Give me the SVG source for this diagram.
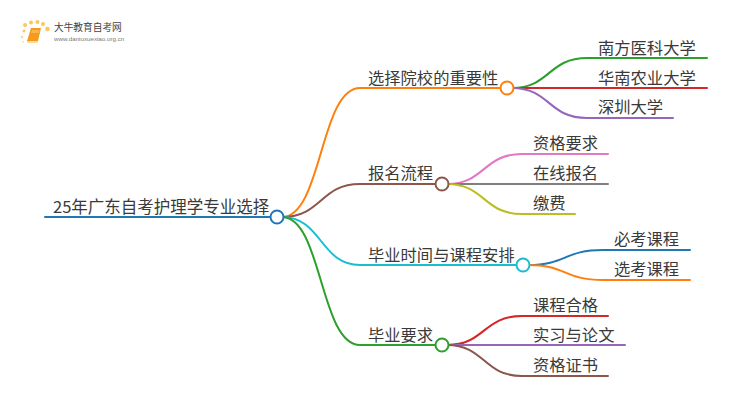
<svg xmlns="http://www.w3.org/2000/svg" width="750" height="410" viewBox="0 0 750 410">
<style>
text{font-family:"Noto Sans CJK SC","Liberation Sans",sans-serif;font-size:16.300px;fill:#3a3a3a}
.c{fill:none;stroke-width:2;stroke-linecap:round}
.n{fill:#fff;stroke-width:2}
</style>
<rect width="750" height="410" fill="#fff"/>
<g id="logo">
<g fill="#fbc75a"><circle cx="24" cy="31" r="1.500"/><circle cx="22" cy="37" r="1.200" opacity=".7"/><circle cx="25" cy="25" r="2"/><circle cx="31" cy="22.500" r="2"/><circle cx="37.500" cy="22" r="2"/><circle cx="43" cy="24" r="2"/><circle cx="47.500" cy="29" r="2.300"/><circle cx="23" cy="42" r="1" opacity=".5"/></g>
<path d="M31 28H41L38 41H27Z" fill="#f59a1e"/><path d="M27 41H38L37.500 43H27Z" fill="#fcd9a0"/><path d="M32 30H39.500L39 33H31Z" fill="#fbb54a"/>
<text x="54" y="31" style="font-size:9.700px;fill:#444">大牛教育自考网</text>
<text x="54" y="41" style="font-size:6.200px;fill:#777;font-family:'Liberation Sans',sans-serif">www.daniuxuexiao.org.cn</text>
</g>
<g id="connectors">
<path class="c" stroke="#1f77b4" d="M45 217H277"/>
<path class="c" stroke="#ff7f0e" d="M282 217C322 217 320 88 360 88H507"/>
<path class="c" stroke="#8c564b" d="M282 217C322 217 320 184 360 184H442"/>
<path class="c" stroke="#17becf" d="M282 217C322 217 320 265 360 265H523"/>
<path class="c" stroke="#2ca02c" d="M282 217C322 217 320 345 360 345H442"/>
<path class="c" stroke="#2ca02c" d="M512 88C550 88 548 58 587 58H707"/>
<path class="c" stroke="#d62728" d="M507 88H707"/>
<path class="c" stroke="#9467bd" d="M512 88C550 88 548 118 587 118H673"/>
<path class="c" stroke="#e377c2" d="M447 184C485 184 483 154 522 154H608"/>
<path class="c" stroke="#7f7f7f" d="M442 184H608"/>
<path class="c" stroke="#bcbd22" d="M447 184C485 184 483 214 522 214H575"/>
<path class="c" stroke="#1f77b4" d="M528 265C566 265 564 250 603 250H690"/>
<path class="c" stroke="#ff7f0e" d="M528 265C566 265 564 280 603 280H690"/>
<path class="c" stroke="#d62728" d="M447 345C485 345 483 316 522 316H608"/>
<path class="c" stroke="#9467bd" d="M442 345H625"/>
<path class="c" stroke="#8c564b" d="M447 345C485 345 483 376 522 376H608"/>
</g>
<g id="root"><text x="53" y="213" style="font-size:16.500px">25年广东自考护理学专业选择</text><circle class="n" stroke="#1f77b4" cx="277" cy="217" r="6.500"/></g>
<g id="b1"><text x="368" y="84">选择院校的重要性</text><circle class="n" stroke="#ff7f0e" cx="507" cy="88" r="6.500"/></g>
<g id="b2"><text x="368" y="179">报名流程</text><circle class="n" stroke="#8c564b" cx="442" cy="184" r="6.500"/></g>
<g id="b3"><text x="368" y="261">毕业时间与课程安排</text><circle class="n" stroke="#17becf" cx="523" cy="265" r="6.500"/></g>
<g id="b4"><text x="368" y="341">毕业要求</text><circle class="n" stroke="#2ca02c" cx="442" cy="345" r="6.500"/></g>
<g id="l1"><text x="598" y="54">南方医科大学</text></g>
<g id="l2"><text x="598" y="84">华南农业大学</text></g>
<g id="l3"><text x="598" y="113">深圳大学</text></g>
<g id="l4"><text x="533" y="149">资格要求</text></g>
<g id="l5"><text x="533" y="179">在线报名</text></g>
<g id="l6"><text x="533" y="209">缴费</text></g>
<g id="l7"><text x="614" y="245">必考课程</text></g>
<g id="l8"><text x="614" y="275">选考课程</text></g>
<g id="l9"><text x="533" y="311">课程合格</text></g>
<g id="l10"><text x="533" y="341">实习与论文</text></g>
<g id="l11"><text x="533" y="371">资格证书</text></g>
</svg>
